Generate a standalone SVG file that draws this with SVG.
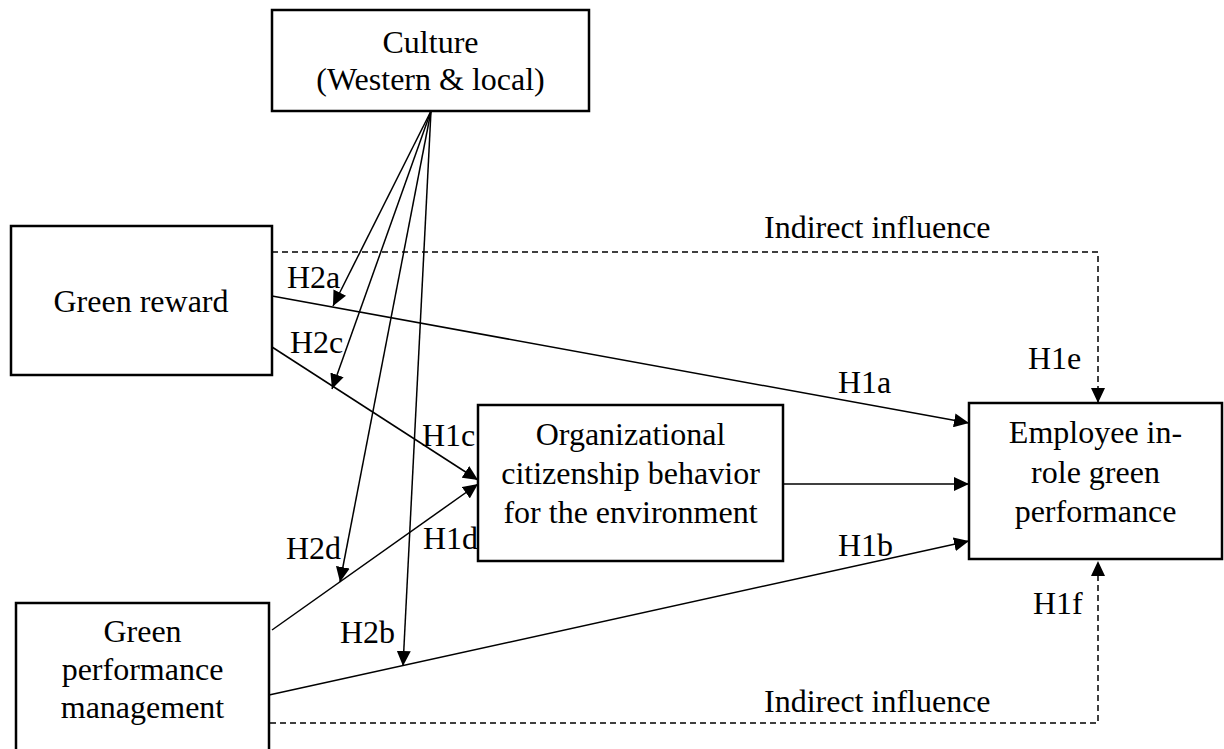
<svg xmlns="http://www.w3.org/2000/svg" width="1224" height="749" viewBox="0 0 1224 749">
  <style>
    .box { fill: #ffffff; stroke: #000000; stroke-width: 2.5; }
    .t { font-family: "Liberation Serif", "Times New Roman", serif; font-size: 32px; fill: #000000; }
    .c { text-anchor: middle; }
    .ln { fill: none; stroke: #000000; stroke-width: 1.5; }
    .dash { fill: none; stroke: #000000; stroke-width: 1.5; stroke-dasharray: 6 4; }
  </style>
  <defs>
    <marker id="arr" markerUnits="userSpaceOnUse" markerWidth="15" markerHeight="14" refX="15" refY="7" orient="auto">
      <path d="M0,0 L15,7 L0,14 z" fill="#000000"/>
    </marker>
  </defs>
  <rect width="1224" height="749" fill="#ffffff"/>

  <g id="connectors">
    <line class="ln" x1="272" y1="296" x2="969" y2="423" marker-end="url(#arr)"/>
    <line class="ln" x1="272" y1="347" x2="478" y2="480" marker-end="url(#arr)"/>
    <line class="ln" x1="272" y1="630" x2="478" y2="484" marker-end="url(#arr)"/>
    <line class="ln" x1="783" y1="484" x2="969" y2="484" marker-end="url(#arr)"/>
    <line class="ln" x1="269" y1="695" x2="969" y2="541" marker-end="url(#arr)"/>
    <polyline class="dash" points="272,252 1098,252 1098,403" marker-end="url(#arr)"/>
    <polyline class="dash" points="270,723 1098,723 1098,561" marker-end="url(#arr)"/>
    <line class="ln" x1="431" y1="111" x2="333" y2="306" marker-end="url(#arr)"/>
    <line class="ln" x1="431" y1="111" x2="332" y2="389" marker-end="url(#arr)"/>
    <line class="ln" x1="431" y1="111" x2="340" y2="582" marker-end="url(#arr)"/>
    <line class="ln" x1="431" y1="111" x2="403" y2="666" marker-end="url(#arr)"/>
  </g>

  <g id="labels">
    <text class="t" x="287" y="288">H2a</text>
    <text class="t" x="290" y="353">H2c</text>
    <text class="t" x="838" y="393">H1a</text>
    <text class="t" x="1028" y="369">H1e</text>
    <text class="t" x="422" y="446">H1c</text>
    <text class="t" x="423" y="549">H1d</text>
    <text class="t" x="286" y="559">H2d</text>
    <text class="t" x="838" y="556">H1b</text>
    <text class="t" x="340" y="643">H2b</text>
    <text class="t" x="1033" y="614">H1f</text>
    <text class="t" x="764" y="238">Indirect influence</text>
    <text class="t" x="764" y="712">Indirect influence</text>
  </g>

  <g id="culture">
    <rect class="box" x="272" y="10" width="317" height="101"/>
    <text class="t c" x="430.5" y="53">Culture</text>
    <text class="t c" x="430.5" y="90">(Western &amp; local)</text>
  </g>

  <g id="green-reward">
    <rect class="box" x="11" y="226" width="261" height="149"/>
    <text class="t c" x="141" y="312">Green reward</text>
  </g>

  <g id="ocbe">
    <rect class="box" x="478" y="405" width="305" height="156"/>
    <text class="t c" x="630.5" y="445">Organizational</text>
    <text class="t c" x="630.5" y="484">citizenship behavior</text>
    <text class="t c" x="630.5" y="523">for the environment</text>
  </g>

  <g id="employee">
    <rect class="box" x="969" y="403" width="253" height="156"/>
    <text class="t c" x="1095.5" y="443">Employee in-</text>
    <text class="t c" x="1095.5" y="483">role green</text>
    <text class="t c" x="1095.5" y="522">performance</text>
  </g>

  <g id="gpm">
    <rect class="box" x="16" y="603" width="253" height="170"/>
    <text class="t c" x="142.5" y="642">Green</text>
    <text class="t c" x="142.5" y="680">performance</text>
    <text class="t c" x="142.5" y="718">management</text>
  </g>
</svg>
